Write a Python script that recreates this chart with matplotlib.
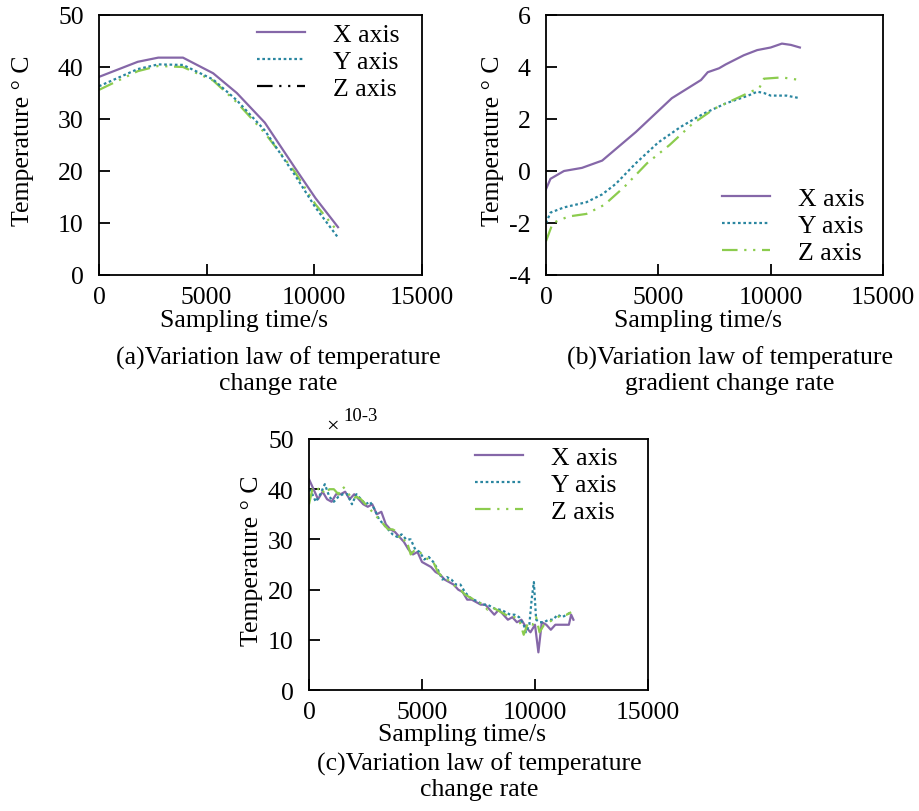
import matplotlib.pyplot as plt
from matplotlib.lines import Line2D

plt.rcParams['font.family'] = ['Liberation Serif', 'DejaVu Serif']
plt.rcParams['font.size'] = 18
plt.rcParams['axes.unicode_minus'] = False

# (a) temperature change rate
a_x_t = [0, 1800, 2750, 3900, 5300, 6400, 7700, 9100, 10050, 11100]
a_x_v = [38.1, 41.0, 41.8, 41.8, 38.8, 35.0, 29.3, 20.6, 14.8, 9.2]
a_y_t = [0, 1800, 2750, 3900, 5300, 6400, 7700, 9100, 10050, 11100]
a_y_v = [36.3, 39.6, 40.5, 40.4, 37.6, 33.6, 27.8, 19.2, 13.0, 7.2]
a_z_t = [0, 1800, 2750, 3900, 5300, 6400, 7700, 9100, 10050, 11100]
a_z_v = [35.6, 39.2, 40.2, 40.0, 37.4, 33.2, 27.3, 19.8, 13.6, 8.3]

# (b) temperature gradient change rate
b_x_t = [0, 200, 800, 1600, 2500, 4000, 5600, 6900, 7200, 7700, 8000, 8800, 9400, 10000, 10500, 10900, 11300]
b_x_v = [-0.7, -0.3, 0.0, 0.12, 0.4, 1.5, 2.8, 3.5, 3.8, 3.95, 4.1, 4.45, 4.65, 4.75, 4.9, 4.85, 4.75]
b_y_t = [0, 200, 800, 1800, 2500, 3100, 4000, 5000, 6000, 7000, 8000, 9000, 9400, 9700, 10000, 10700, 11300]
b_y_v = [-2.0, -1.6, -1.4, -1.2, -0.9, -0.5, 0.3, 1.1, 1.7, 2.2, 2.6, 2.9, 3.05, 3.0, 2.9, 2.9, 2.8]
b_z_t = [0, 300, 1000, 1800, 2600, 3500, 4500, 5500, 6500, 7500, 8500, 9500, 9700, 10500, 11300]
b_z_v = [-2.7, -2.0, -1.75, -1.65, -1.3, -0.6, 0.3, 1.0, 1.8, 2.4, 2.8, 3.2, 3.55, 3.6, 3.5]

# (c) temperature change rate (x1e-3)
c_x_t = [0, 200, 400, 600, 800, 1000, 1200, 1400, 1600, 1800, 2000, 2200, 2400, 2600, 2800,
         3000, 3200, 3400, 3600, 3800, 4000, 4200, 4400, 4600, 4800, 5000, 5200, 5400, 5600,
         5800, 6000, 6200, 6400, 6600, 6800, 7000, 7200, 7400, 7600, 7800, 8000, 8200, 8400,
         8600, 8800, 9000, 9200, 9400, 9600, 9800, 10000, 10150, 10300, 10500, 10700, 10900,
         11100, 11300, 11500, 11600, 11700]
c_x_v = [42, 40, 38, 39.5, 38, 37.5, 39, 39, 39.5, 38, 39, 38, 37, 36.5, 37,
         35, 35.5, 33, 32, 31.5, 30.5, 29.5, 28, 27, 27.5, 25.5, 25, 24.5, 23.5,
         23, 22, 21.5, 21, 20, 19.5, 18, 18, 17.5, 17, 17, 16, 15, 16,
         15, 14, 14.5, 13.5, 14, 12.5, 11.5, 13, 7.5, 13.5, 13,
         12, 13, 13, 13, 13, 15, 14]
c_y_t = [0, 150, 300, 500, 700, 900, 1100, 1300, 1500, 1700, 1900, 2100, 2300, 2500, 2700,
         2900, 3100, 3300, 3500, 3700, 3900, 4100, 4300, 4500, 4700, 4900, 5100, 5300, 5500,
         5700, 5900, 6100, 6300, 6500, 6700, 6900, 7100, 7300, 7500, 7700, 7900, 8100, 8300,
         8500, 8700, 8900, 9100, 9300, 9500, 9600, 9750, 9850, 9950, 10050, 10200, 10400,
         10600, 10800, 11000, 11200, 11400, 11600]
c_y_v = [40, 39, 37.5, 39, 41, 38.5, 37.5, 38.5, 39, 39, 37, 39, 38, 37, 37.5,
         36, 34, 33, 32, 31, 30.5, 31, 30, 30, 28, 27.5, 26, 26.5, 25.5,
         24, 22, 22.5, 22, 21, 21, 19.5, 18.5, 18, 17.5, 17, 17, 16.5, 16,
         16, 15.5, 15, 15, 14.5, 13, 11.5, 13, 18, 21.5, 14, 13.5, 13.5,
         14, 14, 15, 14.5, 15, 15.5]
c_z_t = [0, 150, 300, 500, 700, 900, 1100, 1300, 1500, 1700, 1900, 2100, 2300, 2500, 2700,
         2900, 3100, 3300, 3500, 3700, 3900, 4100, 4300, 4500, 4700, 4900, 5100, 5300, 5500,
         5700, 5900, 6100, 6300, 6500, 6700, 6900, 7100, 7300, 7500, 7700, 7900, 8100, 8300,
         8500, 8700, 8900, 9100, 9300, 9500, 9700, 9900, 10050, 10200, 10400, 10600, 10800,
         11000, 11200, 11400, 11600]
c_z_v = [37, 40, 39.5, 40.5, 39, 40, 40, 39, 40.5, 39.5, 38, 38.5, 38, 37, 36,
         35, 34, 33, 32, 32, 31.5, 29.5, 30, 27, 28, 27.5, 26.5, 26, 25.5,
         23.5, 22.5, 22, 21.5, 20.5, 20, 19, 18.5, 18, 17.5, 17, 16, 16.5, 16,
         15.5, 15, 14.5, 14.5, 14, 11, 13.5, 13, 14.5, 11.5, 13, 13.5, 14,
         14.5, 15, 15, 15.5]

labels = ['X axis', 'Y axis', 'Z axis']
purple = '#8567a8'
teal = '#2a86a0'
green = '#8ccc4e'
dot = (0, (1.2, 1.2))
dashdotdot = (0, (7, 3, 1, 3, 1, 3))
fs = 18.5
lw = 1.6

W, H = 919, 812
fig = plt.figure(figsize=(W / 100, H / 100), dpi=100)


def fx(px):
    return px / W


def fy(py):
    return 1 - py / H


def make_ax(left, top, right, bottom):
    return fig.add_axes([fx(left), fy(bottom), (right - left) / W, (bottom - top) / H])


def style(ax, ylim, yticks, ylab_x, xlab_x):
    ax.set_xlim(0, 15000)
    ax.set_xticks([0, 5000, 10000, 15000])
    ax.set_ylim(*ylim)
    ax.set_yticks(yticks)
    ax.tick_params(direction='in', length=8, width=1.3, top=False, right=False, labelsize=fs)
    ax.tick_params(axis='x', pad=8)
    ax.tick_params(axis='y', pad=11)
    for s in ax.spines.values():
        s.set_linewidth(1.3)
    ax.set_xlabel('Sampling time/s', fontsize=fs)
    ax.set_ylabel('Temperature ° C', fontsize=fs)
    ax.xaxis.set_label_coords(xlab_x, -0.13)
    ax.yaxis.set_label_coords(ylab_x, 0.52)


def legend(ax, handles, left, top):
    ax.legend(handles, labels, loc='upper left', bbox_to_anchor=(fx(left), fy(top)),
              bbox_transform=fig.transFigure, frameon=False, fontsize=fs,
              handlelength=1.85, handletextpad=1.1, labelspacing=0.15, borderpad=0,
              borderaxespad=0)


# (a)
ax1 = make_ax(99, 16, 422, 276)
l1, = ax1.plot(a_x_t, a_x_v, color=purple, lw=lw)
l3, = ax1.plot(a_z_t, a_z_v, color=green, lw=lw, ls=dashdotdot)
l2, = ax1.plot(a_y_t, a_y_v, color=teal, lw=lw, ls=dot)
style(ax1, (0, 50), [0, 10, 20, 30, 40, 50], -0.2, 0.45)
legend(ax1, [l1, l2, Line2D([], [], color='black', lw=lw, ls=dashdotdot)], 257, 24)
fig.text(fx(278), fy(371), '(a)Variation law of temperature\nchange rate',
         ha='center', va='center', fontsize=fs, linespacing=1.2)

# (b)
ax2 = make_ax(546, 16, 883, 276)
m1, = ax2.plot(b_x_t, b_x_v, color=purple, lw=lw)
m2, = ax2.plot(b_y_t, b_y_v, color=teal, lw=lw, ls=dot)
m3, = ax2.plot(b_z_t, b_z_v, color=green, lw=lw, ls=dashdotdot)
style(ax2, (-4, 6), [-4, -2, 0, 2, 4, 6], -0.125, 0.45)
legend(ax2, [m1, m2, m3], 722, 188)
fig.text(fx(730), fy(371), '(b)Variation law of temperature\ngradient change rate',
         ha='center', va='center', fontsize=fs, linespacing=1.2)

# (c)
ax3 = make_ax(309, 440, 648, 691)
n1, = ax3.plot(c_x_t, c_x_v, color=purple, lw=lw)
n2, = ax3.plot(c_y_t, c_y_v, color=teal, lw=lw, ls=dot)
n3, = ax3.plot(c_z_t, c_z_v, color=green, lw=lw, ls=dashdotdot)
style(ax3, (0, 50), [0, 10, 20, 30, 40, 50], -0.135, 0.45)
legend(ax3, [n1, n2, n3], 475, 447)
fig.text(fx(332), fy(427), '×', ha='center', va='center', fontsize=16)
fig.text(fx(343), fy(417), '10-3', ha='left', va='center', fontsize=13.5)
fig.text(fx(479), fy(777), '(c)Variation law of temperature\nchange rate',
         ha='center', va='center', fontsize=fs, linespacing=1.2)

fig.savefig('out.png', dpi=100)
